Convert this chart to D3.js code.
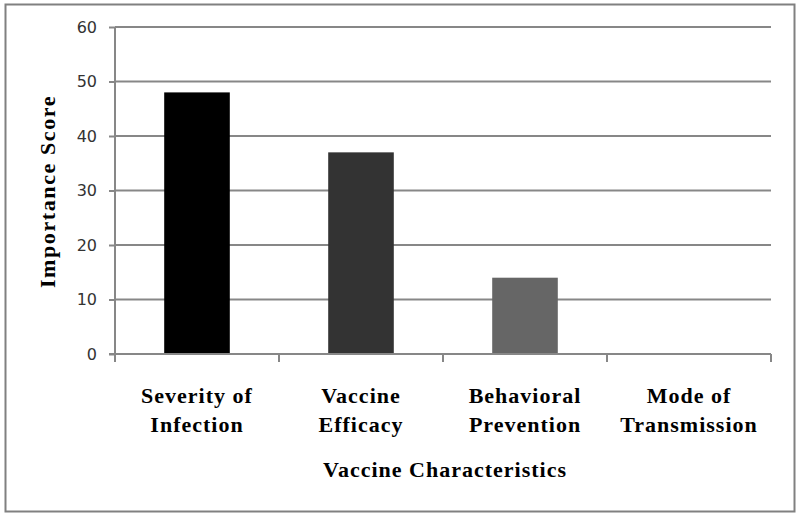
<!DOCTYPE html>
<html><head><meta charset="utf-8">
<script src="https://cdn.jsdelivr.net/npm/d3@7"></script>
<style>
body{margin:0;background:#fff;}
svg{display:block;}
</style></head>
<body><svg id="c" width="800" height="518"></svg>
<script>
const categories = ["Severity of Infection","Vaccine Efficacy","Behavioral Prevention","Mode of Transmission"];
const labelLines = [["Severity of","Infection"],["Vaccine","Efficacy"],["Behavioral","Prevention"],["Mode of","Transmission"]];
const values = [48, 37, 14, 0];
const barColors = ["#000000","#333333","#666666","#999999"];
const yTicks = [0,10,20,30,40,50,60];

const svg = d3.select("#c");
svg.append("rect").attr("x",5.5).attr("y",4.5).attr("width",789).attr("height",507)
  .attr("fill","#fff").attr("stroke","#808080").attr("stroke-width",2);

const pL=115, pR=771, pT=27, pB=354;
const x = d3.scaleBand().domain(categories).range([pL,pR]).paddingInner(0.6).paddingOuter(0.3);
const xEdge = d3.scalePoint().domain(d3.range(categories.length+1)).range([pL,pR]);
const y = d3.scaleLinear().domain([0,60]).range([pB,pT]);

// gridlines
svg.append("g").selectAll("line").data(yTicks.filter(d=>d>0)).join("line")
  .attr("x1",pL).attr("x2",pR).attr("y1",d=>y(d)).attr("y2",d=>y(d))
  .attr("stroke","#878787").attr("stroke-width",2);

// bars
svg.append("g").selectAll("rect").data(values).join("rect")
  .attr("x",(d,i)=>x(categories[i])).attr("width",x.bandwidth())
  .attr("y",d=>y(d)).attr("height",d=>y(0)-y(d)).attr("fill",(d,i)=>barColors[i]);

// y axis
const yAxis = d3.axisLeft(y).tickValues(yTicks).tickSize(6).tickPadding(12);
const gy = svg.append("g").attr("transform",`translate(${pL},0)`).call(yAxis);
gy.select(".domain").attr("stroke","#878787").attr("stroke-width",2).attr("d",`M0,${pT}V${pB+2}`);
gy.selectAll(".tick line").attr("stroke","#878787").attr("stroke-width",2);
gy.selectAll(".tick text").attr("font-family","DejaVu Sans, Verdana, sans-serif").attr("font-size",16).attr("fill","#333");

// x axis
const gx = svg.append("g");
gx.append("line").attr("x1",pL-6).attr("x2",pR).attr("y1",pB).attr("y2",pB)
  .attr("stroke","#878787").attr("stroke-width",2);
gx.selectAll("line.t").data(d3.range(categories.length+1)).join("line").attr("class","t")
  .attr("x1",d=>xEdge(d)).attr("x2",d=>xEdge(d)).attr("y1",pB).attr("y2",pB+8)
  .attr("stroke","#878787").attr("stroke-width",2);

const serif = "Liberation Serif, Times New Roman, serif";
const lab = gx.selectAll("text.cat").data(categories).join("text").attr("class","cat")
  .attr("x",d=>x(d)+x.bandwidth()/2).attr("y",403)
  .attr("text-anchor","middle").attr("font-family",serif).attr("font-weight","bold")
  .attr("font-size",22).attr("letter-spacing",1).attr("fill","#000");
lab.each(function(d,i){
  const t=d3.select(this);
  labelLines[i].forEach((s,k)=>t.append("tspan").attr("x",x(d)+x.bandwidth()/2).attr("dy",k?29:0).text(s));
});

svg.append("text").attr("x",(pL+pR)/2 + 2).attr("y",477).attr("text-anchor","middle")
  .attr("font-family",serif).attr("font-weight","bold").attr("font-size",22).attr("letter-spacing",1)
  .text("Vaccine Characteristics");

svg.append("text").attr("transform",`translate(55,${(pT+pB)/2+1}) rotate(-90)`).attr("text-anchor","middle")
  .attr("font-family",serif).attr("font-weight","bold").attr("font-size",22).attr("letter-spacing",1.6)
  .text("Importance Score");
</script></body></html>
